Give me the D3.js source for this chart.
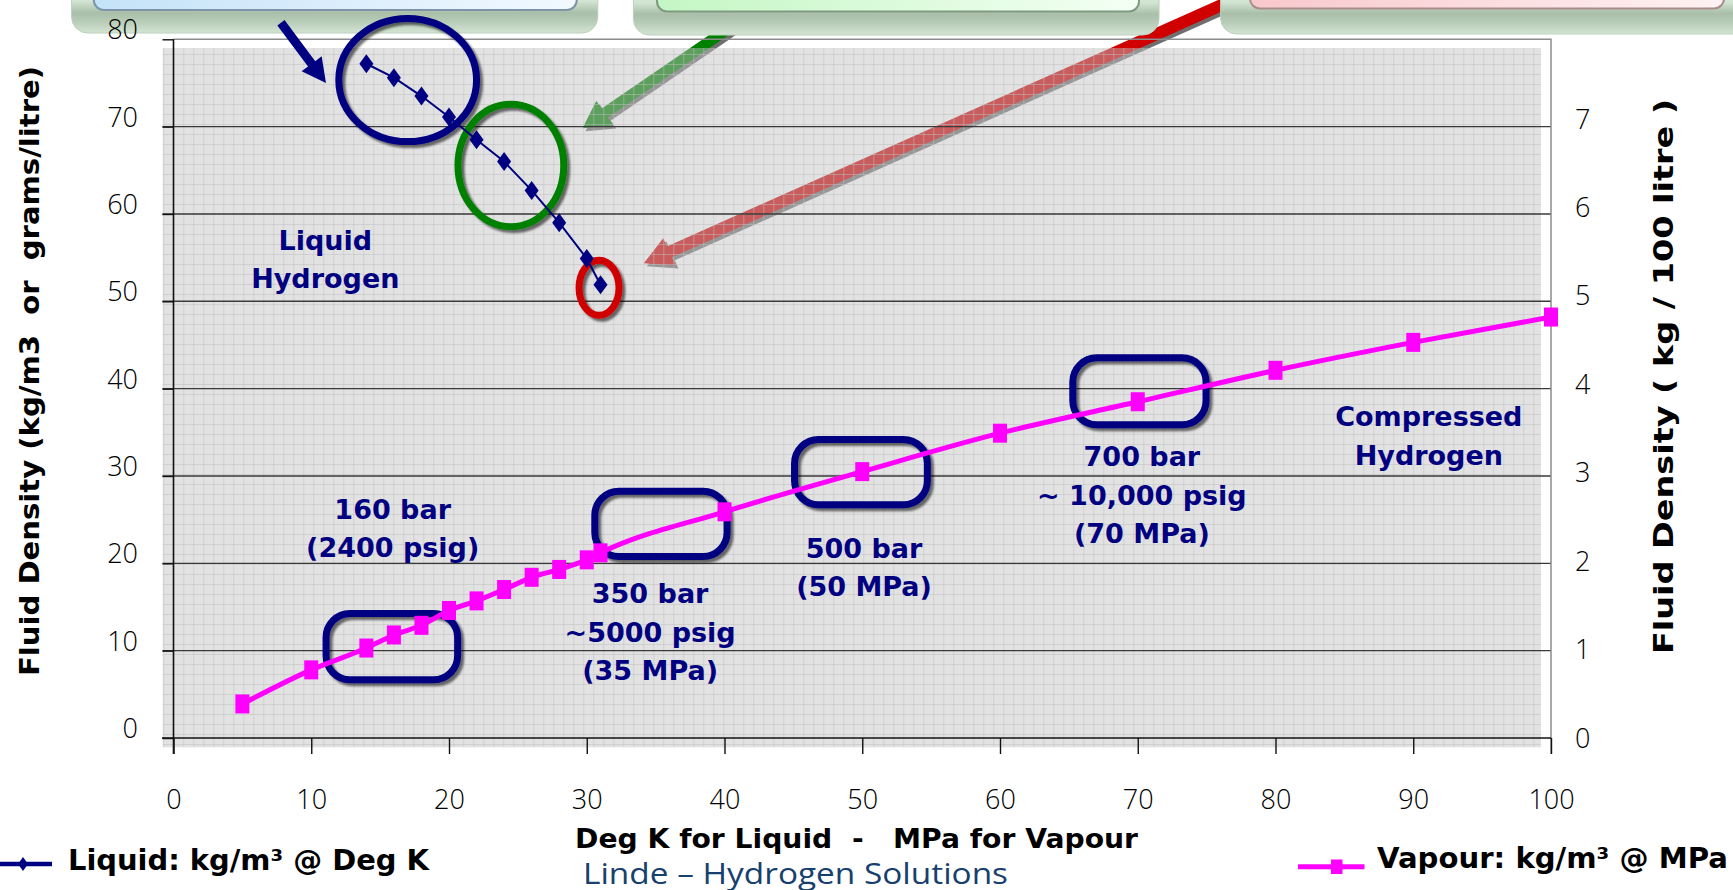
<!DOCTYPE html>
<html>
<head>
<meta charset="utf-8">
<script src="https://cdn.jsdelivr.net/npm/d3@7"></script>
<style>
body { margin: 0; background: #fff; }
svg { display: block; }
text { white-space: pre; }
</style>
</head>
<body>
<svg id="chart"></svg>
<script>
const width = 1733;
const height = 890;

// liquid hydrogen: density (kg/m3) vs temperature (K)
const liquidTemp = [14, 16, 18, 20, 22, 24, 26, 28, 30, 31];
const liquidDensity = [77.2, 75.6, 73.5, 71.1, 68.5, 66.0, 62.7, 59.0, 54.9, 51.9];

// compressed hydrogen: density (kg/m3) vs pressure (MPa)
const vapourPressure = [5, 10, 14, 16, 18, 20, 22, 24, 26, 28, 30, 31, 40, 50, 60, 70, 80, 90, 100];
const vapourDensity = [3.9, 7.8, 10.3, 11.8, 12.9, 14.6, 15.7, 17.0, 18.4, 19.3, 20.4, 21.2, 25.9, 30.5, 34.9, 38.5, 42.1, 45.3, 48.2];

const xTicks = [0, 10, 20, 30, 40, 50, 60, 70, 80, 90, 100];
const yTicks = [0, 10, 20, 30, 40, 50, 60, 70, 80];
const yRightTicks = [0, 1, 2, 3, 4, 5, 6, 7];

const liquid = liquidTemp.map((t, i) => ({x: t, y: liquidDensity[i]}));
const vapour = vapourPressure.map((p, i) => ({x: p, y: vapourDensity[i]}));

const navy = '#000080';
const magenta = '#ff00ff';
const tickFont = '"Open Sans", "Noto Sans", sans-serif';
const boldFont = '"DejaVu Sans", Verdana, sans-serif';

const svg = d3.select('#chart').attr('width', width).attr('height', height);

const x = d3.scaleLinear().domain([0, 100]).range([173.5, 1551]);
const y = d3.scaleLinear().domain([0, 80]).range([738, 39.3]);
const yRight = d3.scaleLinear().domain([0, 7]).range([737, 118]);

// ---------- defs ----------
const defs = svg.append('defs');

const shadow = defs.append('filter').attr('id', 'shadow')
    .attr('x', '-20%').attr('y', '-20%').attr('width', '140%').attr('height', '140%');
shadow.append('feDropShadow').attr('dx', 3).attr('dy', 3).attr('stdDeviation', 1.2)
    .attr('flood-color', '#000').attr('flood-opacity', 0.55);

const pattern = defs.append('pattern').attr('id', 'paper')
    .attr('patternUnits', 'userSpaceOnUse')
    .attr('x', 3.3).attr('y', 4).attr('width', 10).attr('height', 10);
pattern.append('rect').attr('width', 10).attr('height', 10)
    .attr('fill', 'rgb(194,194,194)').attr('fill-opacity', 0.48);
pattern.append('path').attr('d', 'M0,0.5H10M0.5,0V10')
    .attr('stroke', 'rgb(192,192,192)').attr('stroke-opacity', 0.5).attr('stroke-width', 1);

function vGradient(id, stops) {
    const g = defs.append('linearGradient').attr('id', id)
        .attr('x1', 0).attr('y1', 0).attr('x2', 0).attr('y2', 1);
    stops.forEach(s => g.append('stop').attr('offset', s[0]).attr('stop-color', s[1]));
}
function hGradient(id, from, to) {
    const g = defs.append('linearGradient').attr('id', id)
        .attr('x1', 0).attr('y1', 0).attr('x2', 1).attr('y2', 0);
    g.append('stop').attr('offset', 0).attr('stop-color', from);
    g.append('stop').attr('offset', 1).attr('stop-color', to);
}
vGradient('frame', [[0, '#e4f0e4'], [0.72, '#d2e4d2'], [0.82, '#a9bfa9'], [0.9, '#b8ccb8'], [1, '#d4e4d4']]);
hGradient('fillBlue', '#c4e2f8', '#f2f9ff');
hGradient('fillGreen', '#c4f6c4', '#f4fff4');
hGradient('fillPink', '#f8c8cc', '#fff2f2');

// ---------- arrows behind the plot pattern ----------
function arrowPath(x0, y0, x1, y1, shaft, head, headLen) {
    const len = Math.hypot(x1 - x0, y1 - y0);
    const ux = (x1 - x0) / len, uy = (y1 - y0) / len;
    const nx = -uy, ny = ux;
    const bx = x1 - ux * headLen, by = y1 - uy * headLen;
    const p = [
        [x0 + nx * shaft / 2, y0 + ny * shaft / 2],
        [bx + nx * shaft / 2, by + ny * shaft / 2],
        [bx + nx * head / 2, by + ny * head / 2],
        [x1, y1],
        [bx - nx * head / 2, by - ny * head / 2],
        [bx - nx * shaft / 2, by - ny * shaft / 2],
        [x0 - nx * shaft / 2, y0 - ny * shaft / 2]
    ];
    return 'M' + p.map(d => d.join(',')).join('L') + 'Z';
}

// tail and tip in data units
const backArrows = [
    {from: [43.3, 84.5], to: [29.69, 69.81], color: '#008000', shaft: 11, head: 30, headLen: 27},
    {from: [76.9, 84.5], to: [34.14, 54.35], color: '#d00000', shaft: 12, head: 30, headLen: 28}
];
const arrowLayer = svg.append('g');
backArrows.forEach(a => {
    const d = arrowPath(x(a.from[0]), y(a.from[1]), x(a.to[0]), y(a.to[1]), a.shaft, a.head, a.headLen);
    arrowLayer.append('path').attr('d', d).attr('fill', '#6f6f6f').attr('transform', 'translate(3,3)');
    arrowLayer.append('path').attr('d', d).attr('fill', a.color);
});

// ---------- callout boxes at top (cut off by the slide edge) ----------
const callouts = [
    {outer: [71.6, 597.8], inner: [93.8, 576.8], bottom: 33, innerBottom: 10, fill: 'url(#fillBlue)', edge: '#7f93a8'},
    {outer: [633.4, 1159], inner: [657, 1139], bottom: 35, innerBottom: 11.5, fill: 'url(#fillGreen)', edge: '#7f9a80'},
    {outer: [1220.6, 1760], inner: [1250, 1724], bottom: 34, innerBottom: 8.5, fill: 'url(#fillPink)', edge: '#a88c8c'}
];
const boxLayer = svg.append('g');
callouts.forEach(c => {
    boxLayer.append('rect')
        .attr('x', c.outer[0]).attr('y', -80)
        .attr('width', c.outer[1] - c.outer[0]).attr('height', c.bottom + 80)
        .attr('rx', 16).attr('fill', 'url(#frame)').attr('stroke', '#bcd0bc').attr('stroke-width', 1);
    boxLayer.append('rect')
        .attr('x', c.inner[0]).attr('y', -80)
        .attr('width', c.inner[1] - c.inner[0]).attr('height', c.innerBottom + 80)
        .attr('rx', 10).attr('fill', c.fill).attr('stroke', c.edge).attr('stroke-width', 2);
});

// ---------- plot area ----------
svg.append('rect')
    .attr('x', 162.7).attr('y', 48)
    .attr('width', 1541 - 162.7).attr('height', 747.3 - 48)
    .attr('fill', 'url(#paper)');

// major gridlines
svg.append('g').selectAll('line')
    .data(yTicks.filter(v => v > 0 && v < 80))
    .join('line')
    .attr('x1', 162.5).attr('x2', x(100))
    .attr('y1', d => y(d)).attr('y2', d => y(d))
    .attr('stroke', '#3a3a3a').attr('stroke-width', 1.4);

// top and right border
svg.append('path')
    .attr('d', `M${x(0)},${y(80)}H${x(100)}V${y(0) + 16}`)
    .attr('fill', 'none').attr('stroke', '#8c8c8c').attr('stroke-width', 1.5);

// axes
const xAxis = svg.append('g').attr('transform', `translate(0,${y(0)})`)
    .call(d3.axisBottom(x).tickValues(xTicks).tickSize(16).tickSizeOuter(0));
xAxis.select('.domain').attr('d', `M162,0H${x(100)}`)
    .attr('stroke', '#111').attr('stroke-width', 1.6);
xAxis.selectAll('.tick line').attr('stroke', '#111').attr('stroke-width', 1.4);
xAxis.selectAll('text')
    .attr('y', 62).attr('dy', '0.35em')
    .style('font-family', tickFont).style('font-weight', 300).style('font-size', '27px').attr('fill', '#000');

const yAxis = svg.append('g').attr('transform', `translate(${x(0)},0)`)
    .call(d3.axisLeft(y).tickValues(yTicks).tickSize(11).tickSizeOuter(0));
yAxis.select('.domain').attr('d', `M0,${y(80)}V${y(0) + 16}`)
    .attr('stroke', '#111').attr('stroke-width', 1.6);
yAxis.selectAll('.tick line').attr('stroke', '#111').attr('stroke-width', 1.4);
yAxis.selectAll('text')
    .attr('x', -35.5).attr('dy', null)
    .attr('transform', 'translate(0,-11)')
    .attr('dominant-baseline', 'central')
    .style('font-family', tickFont).style('font-weight', 300).style('font-size', '27px').attr('fill', '#000');

svg.append('g').selectAll('text')
    .data(yRightTicks)
    .join('text')
    .attr('x', 1575).attr('y', d => yRight(d))
    .attr('dominant-baseline', 'central')
    .style('font-family', tickFont).style('font-weight', 300).style('font-size', '27px')
    .text(d => d);

// ---------- highlight shapes ----------
const ringLayer = svg.append('g');
const rings = [
    {cx: 17.0, cy: 75.34, rx: 5.0, ry: 7.05, color: navy},
    {cx: 24.49, cy: 65.55, rx: 3.84, ry: 7.0, color: '#008000'},
    {cx: 30.89, cy: 51.55, rx: 1.45, ry: 3.15, color: '#d00000'}
];
ringLayer.selectAll('ellipse')
    .data(rings)
    .join('ellipse')
    .attr('cx', d => x(d.cx)).attr('cy', d => y(d.cy))
    .attr('rx', d => x(d.rx) - x(0)).attr('ry', d => y(0) - y(d.ry))
    .attr('fill', 'none').attr('stroke', d => d.color).attr('stroke-width', 7)
    .attr('filter', 'url(#shadow)');

// capsules: left, right, top, bottom in data units
const capsules = [
    [10.82, 20.88, 14.66, 6.26],
    [30.33, 40.44, 28.66, 20.38],
    [44.83, 54.98, 34.58, 26.30],
    [65.03, 75.21, 43.93, 35.46]
];
ringLayer.selectAll('rect')
    .data(capsules)
    .join('rect')
    .attr('x', d => x(d[0]) + 3.5).attr('y', d => y(d[2]) + 3.5)
    .attr('width', d => x(d[1]) - x(d[0]) - 7).attr('height', d => y(d[3]) - y(d[2]) - 7)
    .attr('rx', 24).attr('ry', 24)
    .attr('fill', 'none').attr('stroke', navy).attr('stroke-width', 7)
    .attr('filter', 'url(#shadow)');

// ---------- series ----------
svg.append('path').datum(vapour)
    .attr('d', d3.line().x(d => x(d.x)).y(d => y(d.y)).curve(d3.curveMonotoneX))
    .attr('fill', 'none').attr('stroke', magenta).attr('stroke-width', 5);
svg.append('g').selectAll('rect')
    .data(vapour)
    .join('rect')
    .attr('x', d => x(d.x) - 7).attr('y', d => y(d.y) - 9.5)
    .attr('width', 14).attr('height', 19)
    .attr('fill', magenta);

svg.append('path').datum(liquid)
    .attr('d', d3.line().x(d => x(d.x)).y(d => y(d.y)))
    .attr('fill', 'none').attr('stroke', navy).attr('stroke-width', 2);
const diamond = (w, h) => `M0,${-h}L${w},0L0,${h}L${-w},0Z`;
svg.append('g').selectAll('path')
    .data(liquid)
    .join('path')
    .attr('transform', d => `translate(${x(d.x)},${y(d.y)})`)
    .attr('d', diamond(7, 9.5))
    .attr('fill', navy);

// navy pointer arrow on top
const topArrow = {from: [7.8, 81.9], to: [11.07, 74.99]};
svg.append('path')
    .attr('d', arrowPath(x(topArrow.from[0]), y(topArrow.from[1]), x(topArrow.to[0]), y(topArrow.to[1]), 9, 25, 24))
    .attr('fill', navy);

// ---------- annotation text ----------
const notes = [
    {x: 11.02, y: 57.0, lines: ['Liquid', 'Hydrogen']},
    {x: 15.91, y: 26.2, lines: ['160 bar', '(2400 psig)']},
    {x: 34.6, y: 16.5, lines: ['350 bar', '~5000 psig', '(35 MPa)']},
    {x: 50.13, y: 21.7, lines: ['500 bar', '(50 MPa)']},
    {x: 70.3, y: 32.2, lines: ['700 bar', '~ 10,000 psig', '(70 MPa)']},
    {x: 91.13, y: 36.8, lines: ['Compressed', 'Hydrogen']}
];
notes.forEach(n => {
    const t = svg.append('text')
        .attr('text-anchor', 'middle')
        .style('font-family', boldFont).style('font-weight', 'bold').style('font-size', '27px')
        .attr('fill', navy);
    n.lines.forEach((line, i) => {
        t.append('tspan')
            .attr('x', x(n.x)).attr('y', y(n.y) + i * 38.5)
            .attr('dominant-baseline', 'central')
            .text(line);
    });
});

// ---------- titles ----------
svg.append('text')
    .attr('transform', 'translate(30,371) rotate(-90)')
    .attr('text-anchor', 'middle').attr('dominant-baseline', 'central')
    .attr('textLength', 610).attr('lengthAdjust', 'spacingAndGlyphs')
    .style('font-family', boldFont).style('font-weight', 'bold').style('font-size', '26px')
    .text('Fluid Density (kg/m3  or  grams/litre)');

svg.append('text')
    .attr('transform', 'translate(1663,376.5) rotate(-90)')
    .attr('text-anchor', 'middle').attr('dominant-baseline', 'central')
    .attr('textLength', 555).attr('lengthAdjust', 'spacingAndGlyphs')
    .style('font-family', boldFont).style('font-weight', 'bold').style('font-size', '27px')
    .text('Fluid Density ( kg / 100 litre )');

svg.append('text')
    .attr('x', 575).attr('y', 839)
    .attr('dominant-baseline', 'central')
    .attr('textLength', 563).attr('lengthAdjust', 'spacingAndGlyphs')
    .style('font-family', boldFont).style('font-weight', 'bold').style('font-size', '26px')
    .text('Deg K for Liquid  -   MPa for Vapour');

svg.append('text')
    .attr('x', 583).attr('y', 872)
    .attr('dominant-baseline', 'central')
    .attr('textLength', 425).attr('lengthAdjust', 'spacingAndGlyphs')
    .style('font-family', tickFont).style('font-size', '29px')
    .attr('fill', '#17406e')
    .text('Linde – Hydrogen Solutions');

// ---------- legend ----------
const legend = svg.append('g');
legend.append('line').attr('x1', 0).attr('x2', 52).attr('y1', 864).attr('y2', 864)
    .attr('stroke', navy).attr('stroke-width', 4.5);
legend.append('path').attr('transform', 'translate(23,864)').attr('d', diamond(5, 7)).attr('fill', navy);
legend.append('text')
    .attr('x', 68).attr('y', 860).attr('dominant-baseline', 'central')
    .attr('textLength', 361).attr('lengthAdjust', 'spacingAndGlyphs')
    .style('font-family', boldFont).style('font-weight', 'bold').style('font-size', '28px')
    .text('Liquid: kg/m³ @ Deg K');

legend.append('line').attr('x1', 1298).attr('x2', 1364.5).attr('y1', 866.7).attr('y2', 866.7)
    .attr('stroke', magenta).attr('stroke-width', 5);
legend.append('rect').attr('x', 1331).attr('y', 859.5).attr('width', 11.5).attr('height', 14.5).attr('fill', magenta);
legend.append('text')
    .attr('x', 1377).attr('y', 858).attr('dominant-baseline', 'central')
    .attr('textLength', 351).attr('lengthAdjust', 'spacingAndGlyphs')
    .style('font-family', boldFont).style('font-weight', 'bold').style('font-size', '28px')
    .text('Vapour: kg/m³ @ MPa');
</script>
</body>
</html>
